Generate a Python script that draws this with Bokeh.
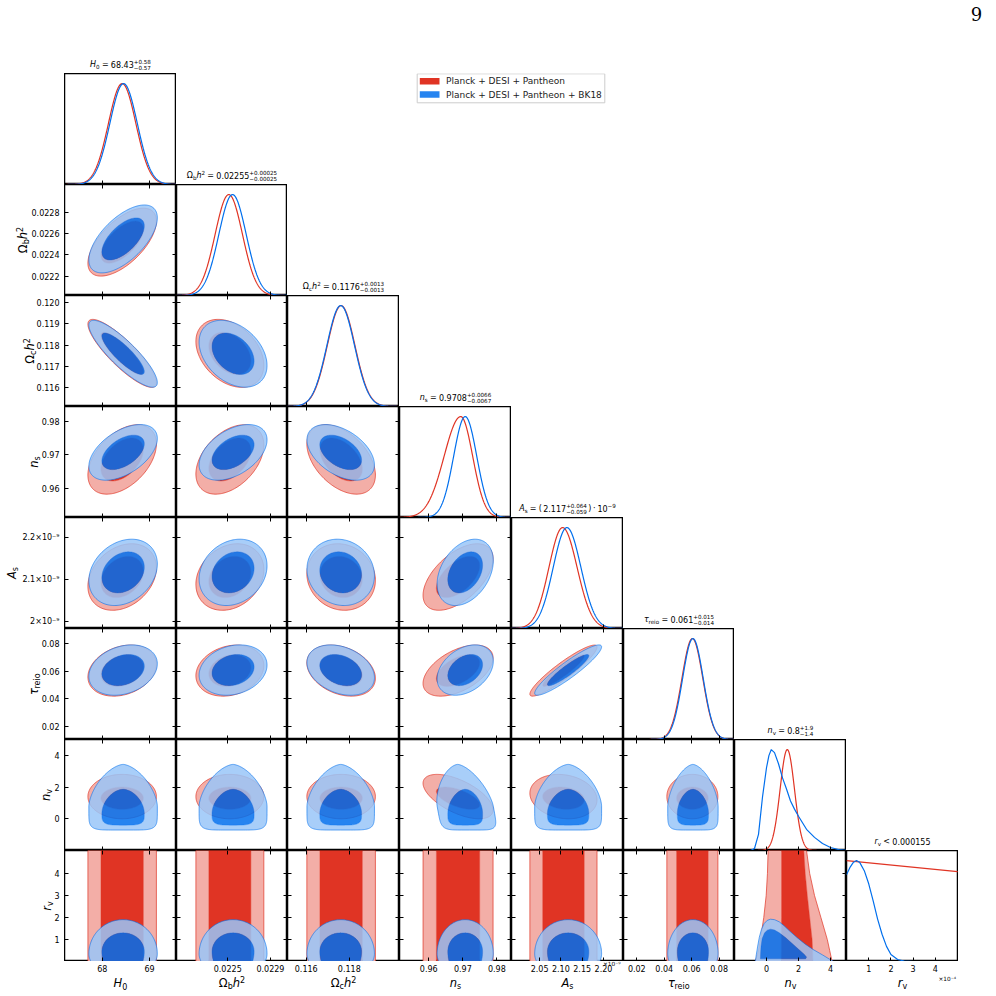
import math
import numpy as np
from bokeh.plotting import figure
from bokeh.models import Range1d, LinearAxis, FixedTicker, Label
from bokeh.layouts import row, column
from bokeh.embed import file_html
from bokeh.resources import INLINE

# ---------------------------------------------------------------------------
# Parameters of the triangle plot (order of rows / columns)
# H0, Omega_b h^2, Omega_c h^2, n_s, A_s [1e-9], tau_reio, n_v, r_v [1e-4]
# ---------------------------------------------------------------------------
LEGEND_LABELS = ["Planck + DESI + Pantheon", "Planck + DESI + Pantheon + BK18"]

AXIS_RANGES = [(67.2, 69.57), (0.02202, 0.02306), (0.11513, 0.12033), (0.9514, 0.9843),
               (1.984, 2.247), (0.0103, 0.0912), (-2.0, 5.0), (0.0, 5.04)]

X_TICKS = [[68, 69], [0.0225, 0.0229], [0.116, 0.118], [0.96, 0.97, 0.98],
           [2.05, 2.10, 2.15, 2.20], [0.02, 0.04, 0.06, 0.08], [0, 2, 4], [1, 2, 3, 4]]
X_TICK_LABELS = [["68", "69"], ["0.0225", "0.0229"], ["0.116", "0.118"], ["0.96", "0.97", "0.98"],
                 ["2.05", "2.10", "2.15", "2.20"], ["0.02", "0.04", "0.06", "0.08"],
                 ["0", "2", "4"], ["1", "2", "3", "4"]]
Y_TICKS = [[], [0.0222, 0.0224, 0.0226, 0.0228], [0.116, 0.117, 0.118, 0.119, 0.120],
           [0.96, 0.97, 0.98], [2.0, 2.1, 2.2], [0.02, 0.04, 0.06, 0.08], [0, 2, 4], [1, 2, 3, 4]]
Y_TICK_LABELS = [[], ["0.0222", "0.0224", "0.0226", "0.0228"],
                 ["0.116", "0.117", "0.118", "0.119", "0.120"], ["0.96", "0.97", "0.98"],
                 ["2×10⁻⁹", "2.1×10⁻⁹", "2.2×10⁻⁹"], ["0.02", "0.04", "0.06", "0.08"],
                 ["0", "2", "4"], ["1", "2", "3", "4"]]
X_OFFSET_TEXT = {4: "×10⁻⁹", 7: "×10⁻⁴"}

# Marginal summaries shown above the diagonal
TITLE_VALUES = ["68.43", "0.02255", "0.1176", "0.9708", "2.117", "0.061", "0.8", "0.000155"]
TITLE_UP = ["+0.58", "+0.00025", "+0.0013", "+0.0066", "+0.064", "+0.015", "+1.9", None]
TITLE_DN = ["−0.57", "−0.00025", "−0.0013", "−0.0067", "−0.059", "−0.014", "−1.4", None]

# 2D Gaussian description: means, standard deviations, correlations
MEAN_RED = [68.42, 0.022520, 0.11762, 0.9686, 2.106, 0.0605]
SD_RED = [0.296, 0.000130, 0.00065, 0.0042, 0.0322, 0.0076]
MEAN_BLUE = [68.44, 0.022550, 0.11760, 0.9707, 2.117, 0.0609]
SD_BLUE = [0.296, 0.000130, 0.00064, 0.00337, 0.0321, 0.0075]
CORR_RED = [[0.62],
            [-0.86, -0.35],
            [0.45, 0.42, -0.45],
            [0.28, 0.22, -0.10, 0.55],
            [0.25, 0.20, -0.30, 0.50, 0.92]]
CORR_BLUE = [[0.62],
             [-0.86, -0.35],
             [0.50, 0.45, -0.45],
             [0.25, 0.20, -0.10, 0.35],
             [0.25, 0.20, -0.30, 0.35, 0.92]]

# 1D marginals: peak position and left / right widths
PEAK_RED = [68.42, 0.022510, 0.11762, 0.9694, 2.104, 0.0605]
SDL_RED = [0.29, 0.000128, 0.00064, 0.0049, 0.032, 0.0076]
SDR_RED = [0.29, 0.000128, 0.00064, 0.0035, 0.034, 0.0076]
PEAK_BLUE = [68.45, 0.022545, 0.11760, 0.9707, 2.114, 0.0609]
SDL_BLUE = [0.29, 0.000128, 0.00064, 0.0034, 0.032, 0.0075]
SDR_BLUE = [0.29, 0.000128, 0.00064, 0.0034, 0.033, 0.0075]

# n_v marginals
NV_PEAK_RED, NV_SD_RED = 1.3, 0.45
NV_GRID_BLUE = [-2.0, -1.0, -0.75, -0.5, -0.25, 0.0, 0.15, 0.3, 0.5, 0.75, 1.0, 1.25, 1.5,
                1.75, 2.0, 2.5, 3.0, 3.5, 4.0, 4.5, 5.0]
NV_DENS_BLUE = [0.0, 0.0, 0.02, 0.16, 0.53, 0.82, 0.94, 1.0, 0.97, 0.86, 0.72, 0.61, 0.49,
                0.41, 0.34, 0.21, 0.13, 0.07, 0.03, 0.01, 0.0]

# r_v marginals (units of 1e-4)
RV_GRID_RED = [0.0, 5.0]
RV_DENS_RED = [1.0, 0.89]
RV_GRID_BLUE = [0.0, 0.15, 0.3, 0.45, 0.6, 0.8, 1.0, 1.2, 1.4, 1.6, 1.8, 2.0, 2.3, 2.6, 3.0, 5.0]
RV_DENS_BLUE = [0.86, 0.93, 0.98, 1.0, 0.98, 0.9, 0.77, 0.6, 0.42, 0.27, 0.15, 0.07, 0.02,
                0.005, 0.0, 0.0]

# n_v contours against the Gaussian parameters
# blue: (widest n_v, extent up, extent down, exponent up, exponent down)
NV_BLUE_95 = (0.8, 2.63, 1.51, 1.6, 6.0)
NV_BLUE_68 = (0.35, 1.51, 0.75, 1.8, 4.0)
NV_BLUE_SHEAR = [0.0, 0.0, 0.0, -0.25, 0.0, 0.0]
# red: (centre, half height)
NV_RED_95 = (1.40, 1.40)
NV_RED_68 = (1.30, 0.70)
NV_RED_TILT = [0.0, 0.0, 0.0, -0.6, -0.15, 0.0]

# r_v contours against the Gaussian parameters: (centre, extent up, extent down)
RV_BLUE_95 = (0.35, 1.55, 1.03)
RV_BLUE_68 = (0.45, 0.85, 1.20)

# n_v - r_v plane
RV_LEVELS = [0.0, 0.5, 1.0, 2.0, 3.0, 4.0, 5.04]
NVRV_RED95_LO = [-0.7, -0.5, -0.38, -0.17, -0.02, 0.06, 0.1]
NVRV_RED95_HI = [4.1, 3.95, 3.8, 3.4, 3.0, 2.7, 2.5]
NVRV_RED68_LO = [0.92, 0.93, 0.93, 0.94, 0.94, 0.94, 0.94]
NVRV_RED68_HI = [2.9, 2.88, 2.85, 2.7, 2.55, 2.42, 2.33]
NVRV_BLUE95_NV = [-0.7, -0.64, -0.55, -0.45, -0.32, -0.15, 0.05, 0.25, 0.5, 0.8, 1.1, 1.45,
                  1.92, 2.4, 2.9, 3.5, 3.95, 4.2]
NVRV_BLUE95_RV = [0.0, 0.3, 0.7, 1.1, 1.45, 1.72, 1.87, 1.92, 1.9, 1.8, 1.62, 1.38,
                  1.08, 0.8, 0.55, 0.3, 0.1, 0.0]
NVRV_BLUE68_NV = [-0.38, -0.37, -0.34, -0.27, -0.12, 0.05, 0.25, 0.5, 0.8, 1.2, 1.6, 2.0,
                  2.35, 2.5, 2.45]
NVRV_BLUE68_RV = [0.12, 0.35, 0.7, 1.05, 1.3, 1.42, 1.47, 1.43, 1.3, 1.08, 0.82, 0.56,
                  0.33, 0.2, 0.12]

# ---------------------------------------------------------------------------
# Styling
# ---------------------------------------------------------------------------
RED = "#E03424"
BLUE = "#006FED"


def pale(hex_color, f=0.6):
    r, g, b = (int(hex_color[k:k + 2], 16) for k in (1, 3, 5))
    return "#%02x%02x%02x" % tuple(int(round(c * (1 - f) + 255 * f)) for c in (r, g, b))


RED_PALE, BLUE_PALE = pale(RED), pale(BLUE)
BLUE_ALPHA = 0.85
K68, K95 = 1.515, 2.448

COLW = [112, 111, 112, 112, 112, 111, 112, 112]
ROWH = 111
LEFT = 64
TOP = 73
BOTTOM = 35
PAGE_W = 996
FONT = "DejaVu Sans"
TICK_FONT = "8px"
LABEL_SIZE = 11.5
TITLE_SIZE = 8.0
YLAB_DIST = [0, 37, 30, 26, 48.5, 26, 14, 13.5]
XLAB_DIST = 25.5
TITLE_LIFT = 6.5
BASELINE_FIX = 0.36   # drop of the rendered baseline, as a fraction of the font size

EM = {c: 0.636 for c in "0123456789"}
EM.update({".": 0.318, " ": 0.318, "+": 0.838, "−": 0.838, "=": 0.838, "<": 0.838,
           "(": 0.390, ")": 0.390, "·": 0.318, "H": 0.752, "Ω": 0.764, "h": 0.634,
           "b": 0.635, "c": 0.550, "n": 0.634, "s": 0.521, "A": 0.684, "τ": 0.56,
           "r": 0.411, "e": 0.615, "i": 0.278, "o": 0.612, "v": 0.592})

SYMBOLS = [
    [("it", "H"), ("sub", "0")],
    [("rm", "Ω"), ("sub", "b"), ("it", "h"), ("sup", "2")],
    [("rm", "Ω"), ("sub", "c"), ("it", "h"), ("sup", "2")],
    [("it", "n"), ("sub", "s")],
    [("it", "A"), ("sub", "s")],
    [("it", "τ"), ("sub", "reio")],
    [("it", "n"), ("sub", "v")],
    [("it", "r"), ("sub", "v")],
]


def text_width(s, size):
    return sum(EM.get(ch, 0.6) for ch in s) * size


def add_text(fig, x, y, text, size, dx=0.0, dy=0.0, angle=0.0, style="normal",
             font=FONT, align="left", color="black"):
    """Place a text on its alphabetic baseline at (x, y) + (dx, dy) pixels."""
    lift = BASELINE_FIX * size
    ox = dx - lift * math.sin(angle)
    oy = dy + lift * math.cos(angle)
    fig.add_layout(Label(x=x, y=y, x_offset=ox, y_offset=oy, text=text, angle=angle,
                         text_font=font, text_font_size="%.1fpx" % size, text_font_style=style,
                         text_color=color, text_align=align, text_baseline="alphabetic"))


def draw_rich(fig, x, y, pieces, size, angle=0.0, dx=0.0, dy=0.0, align="center", color="black"):
    """Lay out a small math-like label from pieces (base, sub/superscripts)."""
    items = []
    u = 0.0
    for kind, txt in pieces:
        if kind == "sp":
            u += txt * size
        elif kind in ("rm", "it"):
            items.append((u, 0.0, txt, size, "italic" if kind == "it" else "normal"))
            u += text_width(txt, size)
        elif kind == "sub":
            s2 = size * 0.7
            items.append((u, -0.2 * size, txt, s2, "normal"))
            u += text_width(txt, s2)
        elif kind == "sup":
            s2 = size * 0.7
            items.append((u, 0.42 * size, txt, s2, "normal"))
            u += text_width(txt, s2)
        elif kind == "pm":
            up, dn = txt
            s2 = size * 0.7
            items.append((u, 0.48 * size, up, s2, "normal"))
            items.append((u, -0.3 * size, dn, s2, "normal"))
            u += max(text_width(up, s2), text_width(dn, s2))
    u0 = {"center": -u / 2.0, "left": 0.0, "right": -u}[align]
    ca, sa = math.cos(angle), math.sin(angle)
    for uu, vv, txt, sz, style in items:
        uu += u0
        add_text(fig, x, y, txt, sz, dx=dx + uu * ca - vv * sa, dy=dy + uu * sa + vv * ca,
                 angle=angle, style=style, color=color)


def title_pieces(i):
    sym = list(SYMBOLS[i])
    if TITLE_UP[i] is None:
        return sym + [("sp", 0.28), ("rm", "<"), ("sp", 0.28), ("rm", TITLE_VALUES[i])]
    core = [("rm", TITLE_VALUES[i]), ("pm", (TITLE_UP[i], TITLE_DN[i]))]
    if i == 4:
        core = ([("rm", "("), ("sp", 0.17)] + core +
                [("sp", 0.17), ("rm", ")"), ("sp", 0.22), ("rm", "·"), ("sp", 0.22),
                 ("rm", "10"), ("sup", "−9")])
    return sym + [("sp", 0.28), ("rm", "="), ("sp", 0.28)] + core


# ---------------------------------------------------------------------------
# Contour geometry
# ---------------------------------------------------------------------------
def gauss_ellipse(mx, my, sx, sy, rho, k, n=181):
    t = np.linspace(0.0, 2.0 * np.pi, n)
    x = mx + k * sx * np.cos(t)
    y = my + k * sy * (rho * np.cos(t) + np.sqrt(1.0 - rho ** 2) * np.sin(t))
    return x, y


def dome(mx, sx, k, shape, shear, n=241):
    mid, up, down, p_up, p_down = shape
    t = np.linspace(0.0, 2.0 * np.pi, n)
    c, s = np.cos(t), np.sin(t)
    e = np.where(s >= 0, 2.0 / p_up, 2.0 / p_down)
    u = np.sign(c) * np.abs(c) ** e
    v = np.sign(s) * np.abs(s) ** e
    y = mid + np.where(s >= 0, up, down) * v
    x = mx + k * sx * u + shear * sx * (y - mid)
    return x, y


def capped_ellipse(mx, sx, k, shape, floor, n=181):
    r0, up, down = shape
    t = np.linspace(0.0, 2.0 * np.pi, n)
    s = np.sin(t)
    x = mx + k * sx * np.cos(t)
    y = np.maximum(r0 + np.where(s >= 0, up, down) * s, floor)
    return x, y


def band(lo, hi, levels):
    return list(lo) + list(hi)[::-1], list(levels) + list(levels)[::-1]


def closed(a):
    a = list(a)
    return a + a[:1]


def draw_contours(p, outer, inner, solid, pale_c, alpha, line_alpha):
    (ox, oy), (ix, iy) = outer, inner
    ox, oy, ix, iy = [list(map(float, a)) for a in (ox, oy, ix, iy)]
    p.multi_polygons(xs=[[[ox, ix]]], ys=[[[oy, iy]]], fill_color=pale_c, fill_alpha=alpha,
                     line_color=None)
    p.patch(ix, iy, fill_color=solid, fill_alpha=alpha, line_color=None)
    p.line(closed(ox), closed(oy), line_color=solid, line_width=0.7, line_alpha=line_alpha)
    p.line(closed(ix), closed(iy), line_color=solid, line_width=0.7, line_alpha=line_alpha * 0.6)


def draw_2d(p, i, j):
    if i <= 5:
        for mean, sd, corr, solid, pale_c, alpha in (
                (MEAN_RED, SD_RED, CORR_RED, RED, RED_PALE, 1.0),
                (MEAN_BLUE, SD_BLUE, CORR_BLUE, BLUE, BLUE_PALE, BLUE_ALPHA)):
            rho = corr[i - 1][j]
            outer = gauss_ellipse(mean[j], mean[i], sd[j], sd[i], rho, K95)
            inner = gauss_ellipse(mean[j], mean[i], sd[j], sd[i], rho, K68)
            draw_contours(p, outer, inner, solid, pale_c, alpha, alpha)
    elif i == 6:
        rho = NV_RED_TILT[j]
        outer = gauss_ellipse(MEAN_RED[j], NV_RED_95[0], SD_RED[j], NV_RED_95[1] / K95, rho, K95)
        inner = gauss_ellipse(MEAN_RED[j], NV_RED_68[0], SD_RED[j], NV_RED_68[1] / K68, rho, K68)
        draw_contours(p, outer, inner, RED, RED_PALE, 1.0, 1.0)
        outer = dome(MEAN_BLUE[j], SD_BLUE[j], K95, NV_BLUE_95, NV_BLUE_SHEAR[j])
        inner = dome(MEAN_BLUE[j], SD_BLUE[j], K68, NV_BLUE_68, 0.0)
        draw_contours(p, outer, inner, BLUE, BLUE_PALE, BLUE_ALPHA, BLUE_ALPHA)
    else:
        floor, top = AXIS_RANGES[7]
        if j < 6:
            m, s = MEAN_RED[j], SD_RED[j]
            outer = ([m - K95 * s, m + K95 * s, m + K95 * s, m - K95 * s], [floor, floor, top, top])
            inner = ([m - K68 * s, m + K68 * s, m + K68 * s, m - K68 * s], [floor, floor, top, top])
            draw_contours(p, outer, inner, RED, RED_PALE, 1.0, 1.0)
            outer = capped_ellipse(MEAN_BLUE[j], SD_BLUE[j], K95, RV_BLUE_95, floor)
            inner = capped_ellipse(MEAN_BLUE[j], SD_BLUE[j], K68, RV_BLUE_68, floor)
            draw_contours(p, outer, inner, BLUE, BLUE_PALE, BLUE_ALPHA, BLUE_ALPHA)
        else:
            outer = band(NVRV_RED95_LO, NVRV_RED95_HI, RV_LEVELS)
            inner = band(NVRV_RED68_LO, NVRV_RED68_HI, RV_LEVELS)
            draw_contours(p, outer, inner, RED, RED_PALE, 1.0, 1.0)
            outer = (NVRV_BLUE95_NV, NVRV_BLUE95_RV)
            inner = (NVRV_BLUE68_NV, NVRV_BLUE68_RV)
            draw_contours(p, outer, inner, BLUE, BLUE_PALE, BLUE_ALPHA, BLUE_ALPHA)


def draw_1d(p, i):
    lo, hi = AXIS_RANGES[i]
    x = np.linspace(lo, hi, 400)
    if i < 6:
        for peak, sl, sr, col in ((PEAK_RED, SDL_RED, SDR_RED, RED),
                                  (PEAK_BLUE, SDL_BLUE, SDR_BLUE, BLUE)):
            s = np.where(x < peak[i], sl[i], sr[i])
            p.line(x, np.exp(-0.5 * ((x - peak[i]) / s) ** 2), line_color=col, line_width=1.2)
    elif i == 6:
        p.line(x, np.exp(-0.5 * ((x - NV_PEAK_RED) / NV_SD_RED) ** 2), line_color=RED, line_width=1.2)
        p.line(NV_GRID_BLUE, NV_DENS_BLUE, line_color=BLUE, line_width=1.2)
    else:
        p.line(RV_GRID_RED, RV_DENS_RED, line_color=RED, line_width=1.2)
        p.line(RV_GRID_BLUE, RV_DENS_BLUE, line_color=BLUE, line_width=1.2)


# ---------------------------------------------------------------------------
# Figures
# ---------------------------------------------------------------------------
def tick_axis(ticks, fixed):
    """Inward tick marks along one edge of a panel, without labels."""
    return LinearAxis(ticker=FixedTicker(ticks=[float(t) for t in ticks]), fixed_location=fixed,
                      major_tick_in=4, major_tick_out=0, minor_tick_line_color=None,
                      axis_line_color=None, major_tick_line_color="black", major_tick_line_width=1,
                      major_label_text_color=None, major_label_standoff=0)


def label_axis(ticks, labels, fixed, standoff):
    """Tick labels only, drawn by an axis sitting on the shared panel edge."""
    return LinearAxis(ticker=FixedTicker(ticks=[float(t) for t in ticks]), fixed_location=fixed,
                      major_tick_in=0, major_tick_out=0, major_tick_line_color=None,
                      minor_tick_line_color=None, axis_line_color=None,
                      major_label_overrides={float(t): l for t, l in zip(ticks, labels)},
                      major_label_text_font=FONT, major_label_text_font_size=TICK_FONT,
                      major_label_text_color="black", major_label_standoff=standoff)


def base_fig(w, h, xr, yr):
    p = figure(width=w, height=h, x_range=Range1d(*xr), y_range=Range1d(*yr),
               x_axis_type=None, y_axis_type=None, tools="", toolbar_location=None,
               output_backend="svg", min_border=0)
    p.outline_line_color = None
    return p


def blank_fig(w, h):
    return base_fig(w, h, (0, w), (0, h))


def make_panel(i, j):
    xr = AXIS_RANGES[j]
    yr = (0.0, 1.1) if i == j else AXIS_RANGES[i]
    p = base_fig(COLW[j], ROWH, xr, yr)
    p.outline_line_color = "black"
    p.outline_line_width = 1.5
    if i == j:
        draw_1d(p, i)
    else:
        draw_2d(p, i, j)
    p.add_layout(tick_axis(X_TICKS[j], yr[0]), "below")
    if i != j:
        p.add_layout(tick_axis(X_TICKS[j], yr[1]), "above")
        p.add_layout(tick_axis(Y_TICKS[i], xr[0]), "left")
        p.add_layout(tick_axis(Y_TICKS[i], xr[1]), "right")
    return p


def left_strip(i):
    """Y tick labels and axis title to the left of row i."""
    yr = AXIS_RANGES[i]
    p = base_fig(LEFT, ROWH, (0, LEFT), yr)
    p.add_layout(label_axis(Y_TICKS[i], Y_TICK_LABELS[i], LEFT, 5), "left")
    draw_rich(p, LEFT, 0.5 * (yr[0] + yr[1]), SYMBOLS[i], LABEL_SIZE, angle=math.pi / 2,
              dx=-YLAB_DIST[i])
    return p


def bottom_strip(j):
    """X tick labels and axis title below column j."""
    xr = AXIS_RANGES[j]
    p = base_fig(COLW[j], BOTTOM, xr, (0, BOTTOM))
    p.add_layout(label_axis(X_TICKS[j], X_TICK_LABELS[j], BOTTOM, 3), "below")
    draw_rich(p, 0.5 * (xr[0] + xr[1]), BOTTOM, SYMBOLS[j], LABEL_SIZE, dy=-XLAB_DIST)
    if j in X_OFFSET_TEXT:
        dx, dy = (91.5, -4.5) if j == 4 else (92.0, -19.3)
        add_text(p, xr[0], BOTTOM, X_OFFSET_TEXT[j], 5.8, dx=dx, dy=dy)
    return p


def legend_box(p):
    """Legend drawn in the empty area to the right of the first panel (pixel frame)."""
    p.quad(left=[240.7], right=[428.3], bottom=[81.7], top=[110.7], fill_color="white",
           line_color="#cccccc", line_width=1)
    colours = [(RED, 1.0), (BLUE, BLUE_ALPHA)]
    for k, (label, (col, a)) in enumerate(zip(LEGEND_LABELS, colours)):
        yc = 103.3 - 13.3 * k
        p.quad(left=[243.3], right=[263.0], bottom=[yc - 3.3], top=[yc + 3.3], fill_color=col,
               fill_alpha=a, line_color=None)
        p.add_layout(Label(x=269.5, y=yc, text=label, text_font=FONT, text_font_size="9px",
                           text_color="#222222", text_align="left", text_baseline="middle"))


rows_layout = []
header = blank_fig(PAGE_W, TOP)
draw_rich(header, LEFT + COLW[0] / 2.0, TITLE_LIFT, title_pieces(0), TITLE_SIZE)
add_text(header, 976, 53, "9", 18.0, font="DejaVu Serif", align="center")
rows_layout.append(header)

for i in range(8):
    figs = [left_strip(i) if i > 0 else blank_fig(LEFT, ROWH)]
    figs += [make_panel(i, j) for j in range(i + 1)]
    if i < 7:
        rest = sum(COLW[i + 1:]) + (PAGE_W - LEFT - sum(COLW))
        bf = blank_fig(rest, ROWH)
        draw_rich(bf, COLW[i + 1] / 2.0, TITLE_LIFT, title_pieces(i + 1), TITLE_SIZE)
        if i == 0:
            legend_box(bf)
        figs.append(bf)
    rows_layout.append(row(*figs))

rows_layout.append(row(blank_fig(LEFT, BOTTOM), *[bottom_strip(j) for j in range(8)]))

layout = column(*rows_layout)
open("out.html", "w").write(file_html(layout, INLINE))
